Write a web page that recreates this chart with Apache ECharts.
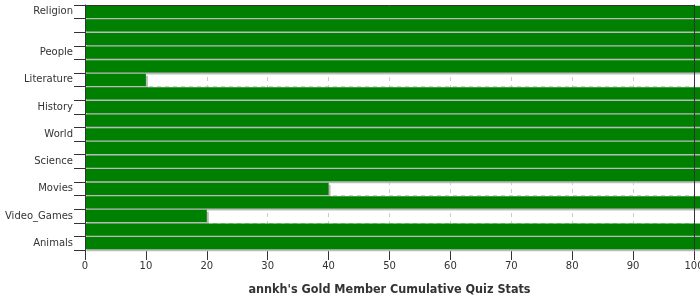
<!DOCTYPE html>
<html>
<head>
<meta charset="utf-8">
<script src="https://cdn.jsdelivr.net/npm/echarts@6/dist/echarts.min.js"></script>
<style>html,body{margin:0;padding:0;background:#fff;}#c{width:700px;height:300px;}</style>
</head>
<body>
<div id="c"></div>
<script>
// Categories top to bottom (unlabelled rows in the reference kept blank)
const categories = ['Religion', '', '', 'People', '', 'Literature', '', 'History', '', 'World', '', 'Science', '', 'Movies', '', 'Video_Games', '', 'Animals'];
// Values: full bars run past the 100 edge of the axis in the reference
const values = [101, 101, 101, 101, 101, 10, 101, 101, 101, 101, 101, 101, 101, 40, 101, 20, 101, 101];
const xTicks = [0, 10, 20, 30, 40, 50, 60, 70, 80, 90, 100];
const title = "annkh's Gold Member Cumulative Quiz Stats";

const chart = echarts.init(document.getElementById('c'), null, {renderer: 'canvas'});
const lineCol = '#333';
chart.setOption({
  animation: false,
  grid: {left: 85, right: 6, top: 5, bottom: 50, containLabel: false, outerBoundsMode: 'none'},
  xAxis: [{
    type: 'value', min: xTicks[0], max: xTicks[xTicks.length - 1], interval: 10,
    position: 'bottom',
    axisLine: {show: false},
    axisTick: {show: true, length: 10, lineStyle: {color: lineCol}},
    axisLabel: {color: '#333', fontSize: 10, fontFamily: 'DejaVu Sans', margin: 11, hideOverlap: false},
    splitLine: {show: true, lineStyle: {color: '#cccccc', type: [4, 4], width: 1}},
    name: title, nameLocation: 'middle', nameGap: 33,
    nameTextStyle: {fontFamily: 'DejaVu Sans Condensed', fontWeight: 'bold', fontSize: 12.5, color: '#333'}
  }, {
    type: 'value', min: 0, max: 100, position: 'top', z: 10,
    axisLine: {show: true, lineStyle: {color: lineCol}},
    axisTick: {show: false}, axisLabel: {show: false}, splitLine: {show: false}
  }],
  yAxis: [{
    type: 'category', data: categories, inverse: true, position: 'left',
    axisLine: {show: false},
    axisTick: {show: true, length: 11, lineStyle: {color: lineCol}},
    axisLabel: {interval: 0, color: '#333', fontSize: 10, fontFamily: 'DejaVu Sans', margin: 12},
    splitLine: {show: true, interval: 0, lineStyle: {color: '#cccccc', type: [4, 4], width: 1}}
  }, {
    type: 'category', data: categories, inverse: true, position: 'left', z: 10,
    axisLine: {show: true, lineStyle: {color: lineCol}},
    axisTick: {show: false}, axisLabel: {show: false}, splitLine: {show: false}
  }, {
    type: 'category', data: categories, inverse: true, position: 'right', z: 10,
    axisLine: {show: true, lineStyle: {color: lineCol}},
    axisTick: {show: false}, axisLabel: {show: false}, splitLine: {show: false}
  }],
  series: [{
    type: 'bar', data: values, xAxisIndex: 0, yAxisIndex: 0,
    clip: false,
    barCategoryGap: '10%',
    itemStyle: {color: '#008000', shadowColor: '#bbbbbb', shadowOffsetX: 2, shadowOffsetY: 2, shadowBlur: 0}
  }]
});
</script>
</body>
</html>
